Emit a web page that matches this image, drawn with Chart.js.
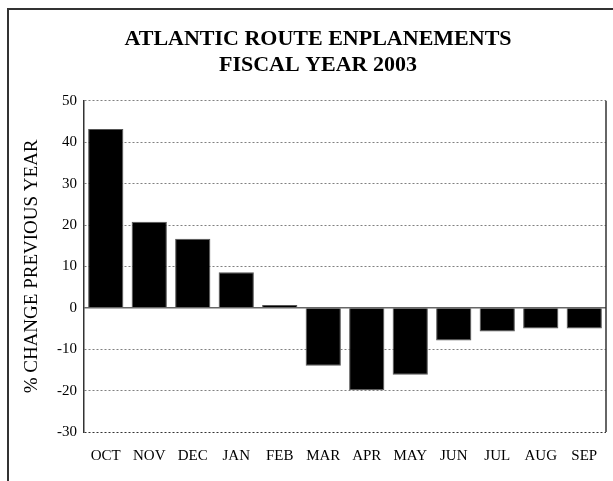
<!DOCTYPE html>
<html>
<head>
<meta charset="utf-8">
<script src="https://cdn.jsdelivr.net/npm/chart.js@4"></script>
<style>
  html, body { margin: 0; padding: 0; background: #fff; }
  #wrap { position: relative; width: 613px; height: 481px; overflow: hidden; }
  #frame { position: absolute; left: 7px; top: 8px; width: 700px; height: 600px;
           border-left: 2px solid #333; border-top: 2px solid #333; pointer-events: none; }
  canvas { display: block; }
</style>
</head>
<body>
<div id="wrap">
  <canvas id="c" width="613" height="481"></canvas>
  <div id="frame"></div>
</div>
<script>
const titleLines = ['ATLANTIC ROUTE ENPLANEMENTS', 'FISCAL YEAR 2003'];
const yAxisTitle = '% CHANGE PREVIOUS YEAR';
const months = ['OCT', 'NOV', 'DEC', 'JAN', 'FEB', 'MAR', 'APR', 'MAY', 'JUN', 'JUL', 'AUG', 'SEP'];
const pctChange = [43.2, 20.8, 16.7, 8.6, 0.7, -14.0, -19.9, -16.2, -7.9, -5.7, -5.0, -5.0];
const yMin = -30;
const yMax = 50;
const yStep = 10;

const SERIF = "'Liberation Serif', 'Times New Roman', serif";

const framePlugin = {
  id: 'framePlugin',
  afterDatasetsDraw(chart) {
    const { ctx, chartArea, scales } = chart;
    const y0 = scales.y.getPixelForValue(0);
    ctx.save();
    ctx.strokeStyle = '#666';
    ctx.lineWidth = 1.5;
    ctx.setLineDash([]);
    ctx.beginPath();
    ctx.moveTo(chartArea.left, y0);
    ctx.lineTo(chartArea.right, y0);
    ctx.stroke();
    ctx.strokeStyle = '#333';
    ctx.lineWidth = 1.5;
    ctx.beginPath();
    ctx.moveTo(chartArea.right, chartArea.top);
    ctx.lineTo(chartArea.right, chartArea.bottom);
    ctx.stroke();
    ctx.restore();
  }
};

new Chart(document.getElementById('c'), {
  type: 'bar',
  data: {
    labels: months,
    datasets: [{
      data: pctChange,
      backgroundColor: '#000',
      borderColor: '#555',
      borderWidth: 1,
      barPercentage: 0.81,
      categoryPercentage: 1.0
    }]
  },
  options: {
    responsive: false,
    animation: false,
    devicePixelRatio: 1,
    layout: { padding: { left: 30, right: 7, top: 0, bottom: 16 } },
    plugins: {
      legend: { display: false },
      tooltip: { enabled: false },
      title: {
        display: true,
        text: titleLines,
        color: '#000',
        font: { family: SERIF, size: 22, weight: 'bold', lineHeight: 1.2 },
        padding: { top: 26, bottom: 22 }
      }
    },
    scales: {
      x: {
        grid: { display: false, drawTicks: false },
        border: { display: false },
        ticks: {
          color: '#000',
          font: { family: SERIF, size: 15, lineHeight: 1.2 },
          padding: 15,
          maxRotation: 0,
          autoSkip: false
        },
        afterFit(scale) { scale.height = 33; }
      },
      y: {
        min: yMin,
        max: yMax,
        border: { display: true, color: '#333', width: 1.5, dash: [2, 2] },
        grid: {
          drawTicks: false,
          lineWidth: 1,
          color(ctx) {
            const v = ctx.tick && ctx.tick.value;
            if (v === 0) return 'rgba(0,0,0,0)';
            if (v === yMin) return '#333';
            return '#808080';
          }
        },
        ticks: {
          stepSize: yStep,
          color: '#000',
          font: { family: SERIF, size: 15 },
          padding: 7
        },
        title: {
          display: true,
          text: yAxisTitle,
          color: '#000',
          font: { family: SERIF, size: 19, lineHeight: 1.2 },
          padding: { top: -9.4, bottom: 0 }
        },
        afterFit(scale) { scale.width = 54; }
      }
    }
  },
  plugins: [framePlugin]
});
</script>
</body>
</html>
